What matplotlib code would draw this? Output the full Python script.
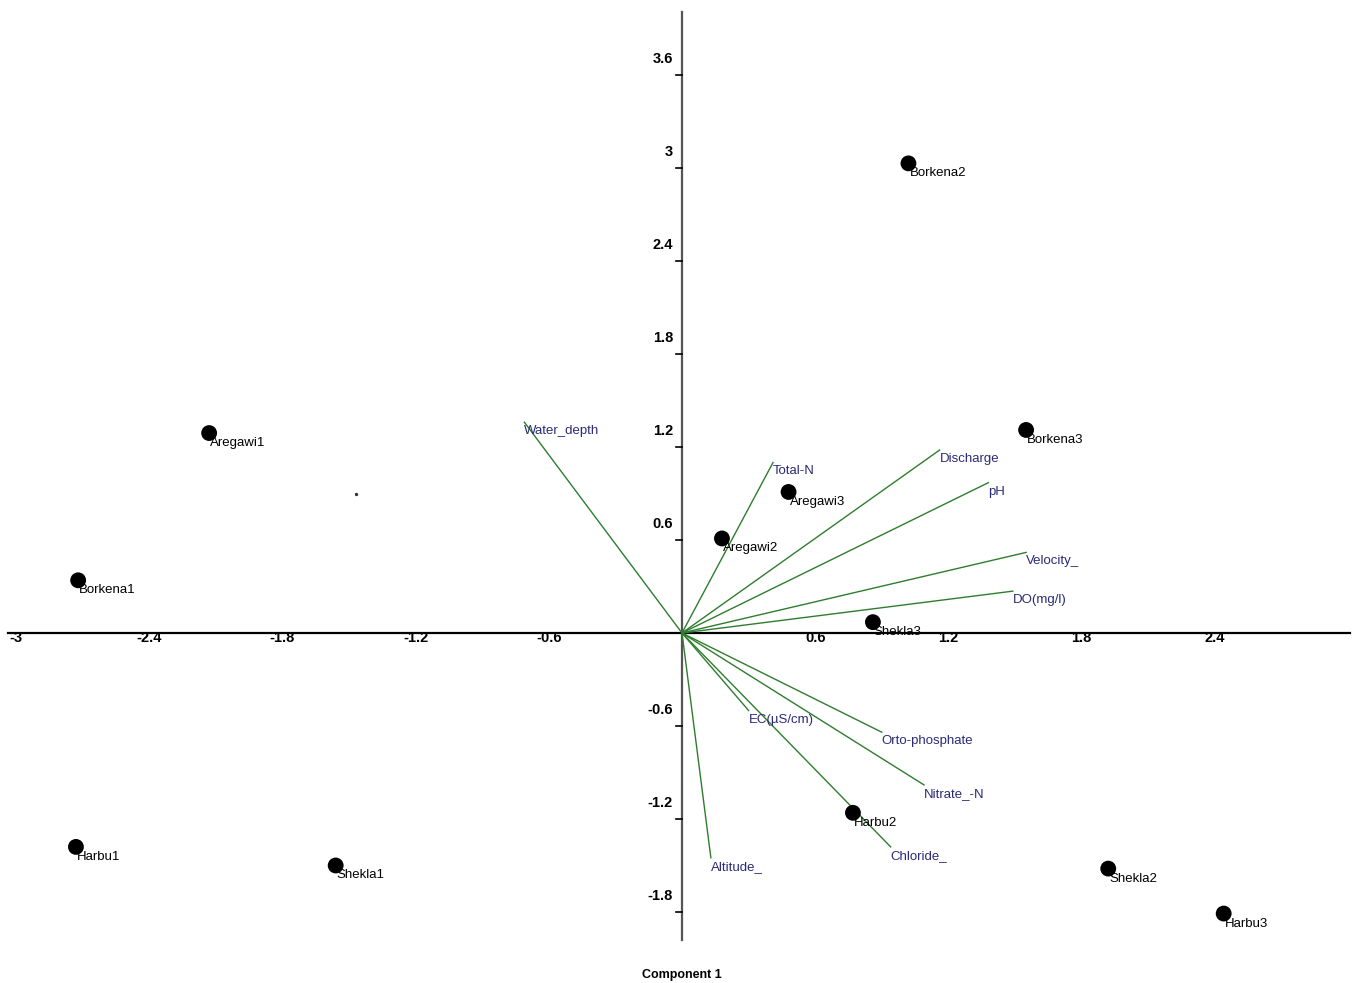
import matplotlib
matplotlib.use("Agg")
import matplotlib.pyplot as plt
from matplotlib import font_manager

# ---- data ----
sites = ["Borkena2", "Aregawi1", "Borkena3", "Aregawi3", "Aregawi2", "Borkena1",
         "Shekla3", "Harbu2", "Harbu1", "Shekla1", "Shekla2", "Harbu3"]
site_x = [1.02, -2.13, 1.55, 0.48, 0.18, -2.72, 0.86, 0.77, -2.73, -1.56, 1.92, 2.44]
site_y = [3.03, 1.29, 1.31, 0.91, 0.61, 0.34, 0.07, -1.16, -1.38, -1.50, -1.52, -1.81]

variables = ["Water_depth", "Total-N", "Discharge", "pH", "Velocity_", "DO(mg/l)",
             "Orto-phosphate", "Nitrate_-N", "Chloride_", "Altitude_", "EC(\u00b5S/cm)"]
var_x = [-0.71, 0.41, 1.16, 1.38, 1.55, 1.49, 0.90, 1.09, 0.94, 0.13, 0.30]
var_y = [1.36, 1.10, 1.18, 0.97, 0.52, 0.27, -0.64, -0.98, -1.38, -1.45, -0.50]

stray_x = [-1.47]
stray_y = [0.90]

xticks = [-3, -2.4, -1.8, -1.2, -0.6, 0.6, 1.2, 1.8, 2.4]
xtick_labels = ["-3", "-2.4", "-1.8", "-1.2", "-0.6", "0.6", "1.2", "1.8", "2.4"]
yticks = [3.6, 3, 2.4, 1.8, 1.2, 0.6, -0.6, -1.2, -1.8]
ytick_labels = ["3.6", "3", "2.4", "1.8", "1.2", "0.6", "-0.6", "-1.2", "-1.8"]
xlabel = "Component 1"

# ---- fonts ----
names = {f.name for f in font_manager.fontManager.ttflist}
narrow = "Liberation Sans Narrow" if "Liberation Sans Narrow" in names else "Liberation Sans"
regular = "Liberation Sans"

W, H = 1356, 983
fig = plt.figure(figsize=(W / 100, H / 100), dpi=100)
ax = fig.add_axes([0, 0, 1, 1])
ax.set_axis_off()

# pixel mapping: origin at (682, 633); 222 px per unit x, 155 px per unit y
x0, y0, kx, ky = 682, 633, 222.0, 155.0
ax.set_xlim((0 - x0) / kx, (W - x0) / kx)
ax.set_ylim((y0 - H) / ky, (y0 - 0) / ky)

# axis lines
ax.plot([(8 - x0) / kx, (1350 - x0) / kx], [0, 0], color="black", lw=1.6, zorder=2)
ax.plot([0, 0], [(y0 - 12) / ky, (y0 - 940) / ky], color="#555555", lw=1.6, zorder=2)

# y ticks (dash to the left of axis) and labels above-left
for v, lab in zip(yticks, ytick_labels):
    ax.plot([-6 / kx, 0], [v, v], color="black", lw=1.2, zorder=2)
    ax.annotate(lab, (0, v), xytext=(-9, 16), textcoords="offset pixels",
                ha="right", va="center", fontsize=10.5, fontweight="bold",
                family=narrow, color="black")

# x tick labels just below the axis
for v, lab in zip(xticks, xtick_labels):
    ax.annotate(lab, (v, 0), xytext=(0, -5), textcoords="offset pixels",
                ha="center", va="center", fontsize=10.5, fontweight="bold",
                family=narrow, color="black")

# variable vectors
for name, vx, vy in zip(variables, var_x, var_y):
    ax.plot([0, vx], [0, vy], color="#2e7d2e", lw=1.0, zorder=3)
    ax.annotate(name, (vx, vy), xytext=(0, -9), textcoords="offset pixels",
                ha="left", va="center", fontsize=9.5, family=regular,
                color="#2a2a78", zorder=4)

# site points
ax.scatter(site_x, site_y, s=130, color="black", zorder=5, edgecolors="none")
for name, sx, sy in zip(sites, site_x, site_y):
    ax.annotate(name, (sx, sy), xytext=(1, -10), textcoords="offset pixels",
                ha="left", va="center", fontsize=9.5, family=regular,
                color="black", zorder=6)

ax.scatter(stray_x, stray_y, s=2, color="#333333", zorder=5)

# axis title
fig.text(x0 / W, 1 - 975 / H, xlabel, ha="center", va="center",
         fontsize=9, fontweight="bold", family=narrow)

fig.savefig("out.png", dpi=100)
